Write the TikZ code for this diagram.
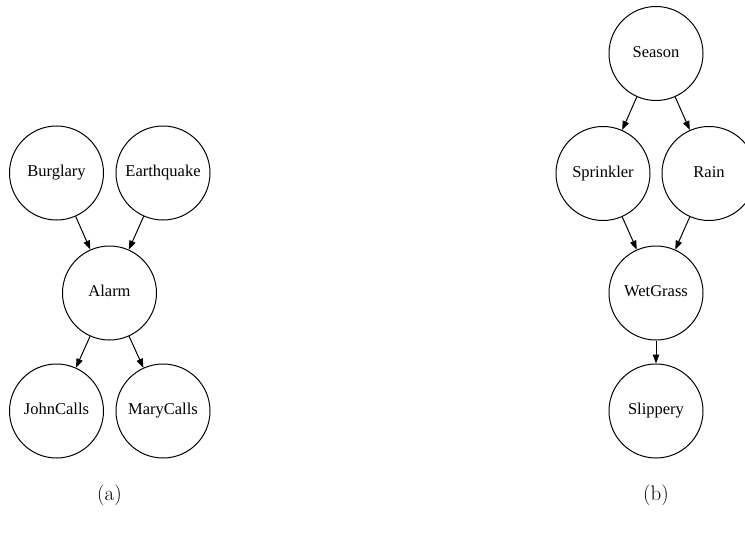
\documentclass[tikz,border=0pt]{standalone}
\usepackage{fontspec}
\setmainfont{Liberation Serif}
\newfontfamily\capfont{Latin Modern Roman}
\usetikzlibrary{arrows.meta}
\begin{document}
\begin{tikzpicture}[x=1pt,y=-1pt,
  var/.style={draw, circle, line width=1pt, minimum size=94pt, inner sep=0pt,
    text height=11pt, text depth=3.5pt,
    font=\fontsize{16.5}{18}\selectfont},
  dep/.style={line width=1pt, -{Triangle[length=9pt,width=6.5pt]}},
  caption/.style={font=\capfont\fontsize{21}{23}\selectfont}]
  \useasboundingbox (0,0) rectangle (745,536);
  \clip (0,0) rectangle (745,536);

  % (a) burglary network
  \node[var] (burglary)   at (56.5,173)  {Burglary};
  \node[var] (earthquake) at (163,173)   {Earthquake};
  \node[var] (alarm)      at (109.5,293) {Alarm};
  \node[var] (john)       at (56.5,411)  {JohnCalls};
  \node[var] (mary)       at (163,411)   {MaryCalls};
  \draw[dep] (burglary) -- (alarm);
  \draw[dep] (earthquake) -- (alarm);
  \draw[dep] (alarm) -- (john);
  \draw[dep] (alarm) -- (mary);
  \node[caption] (capa) at (109.5,495) {(a)};

  % (b) sprinkler network
  \node[var] (season)    at (656,53.5)  {Season};
  \node[var] (sprinkler) at (603,173.5) {Sprinkler};
  \node[var] (rain)      at (709,173.5) {Rain};
  \node[var] (wetgrass)  at (656,293)   {WetGrass};
  \node[var] (slippery)  at (656,411)   {Slippery};
  \draw[dep] (season) -- (sprinkler);
  \draw[dep] (season) -- (rain);
  \draw[dep] (sprinkler) -- (wetgrass);
  \draw[dep] (rain) -- (wetgrass);
  \draw[dep] (wetgrass) -- (slippery);
  \node[caption] (capb) at (656,495) {(b)};
\end{tikzpicture}
\end{document}
